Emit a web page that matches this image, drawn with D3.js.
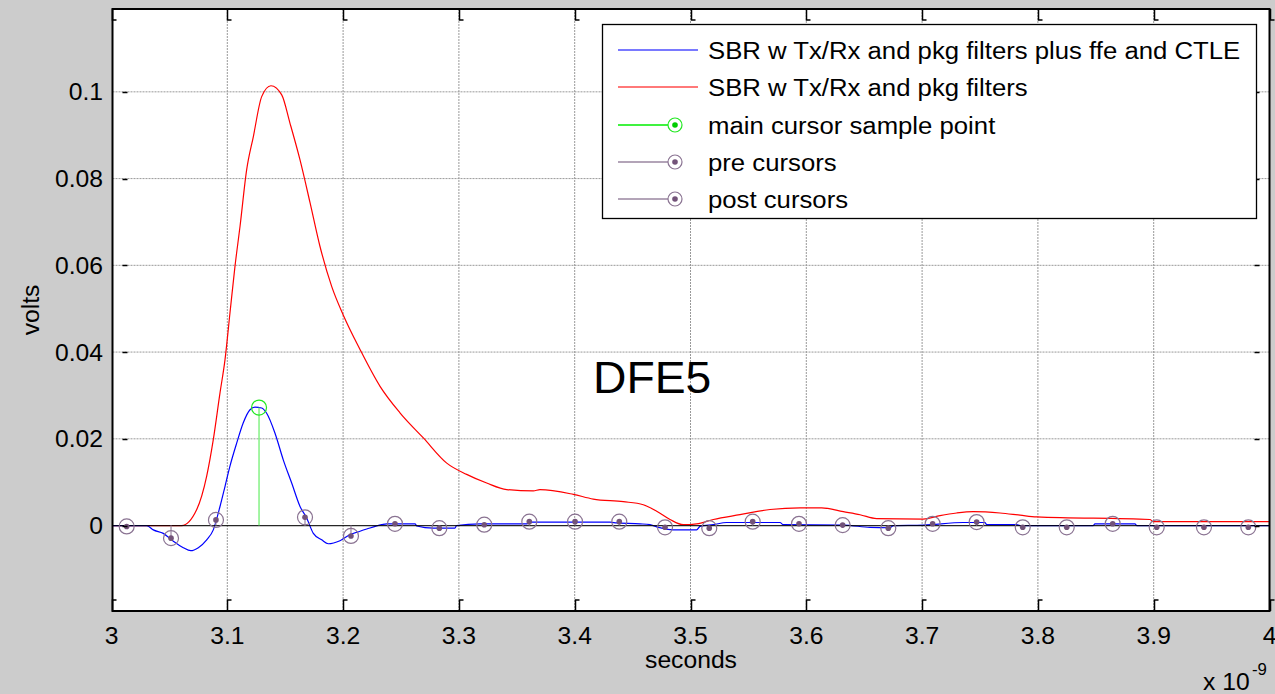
<!DOCTYPE html>
<meta charset="utf-8">
<style>
body { margin: 0; background: #cccccc; }
svg { display: block; font-family: "Liberation Sans", Arial, sans-serif; }
.grid { stroke: #999; stroke-width: 1; stroke-dasharray: 2,1; }
.tick { stroke: #000; stroke-width: 1.5; fill: none; }
</style>
<body>
<script src="https://cdnjs.cloudflare.com/ajax/libs/d3/7.8.5/d3.min.js"></script>
<script>
// SBR with Tx/Rx + pkg filters (red), time in ns, volts
var redT = [3.000, 3.0606, 3.0736, 3.0822, 3.0879, 3.0937, 3.098, 3.1023, 3.1066, 3.111, 3.1167, 3.1225, 3.1297, 3.1377, 3.147, 3.1541, 3.1628, 3.1714, 3.18, 3.1902, 3.2002, 3.2146, 3.2319, 3.2491, 3.2693, 3.2895, 3.3067, 3.324, 3.3413, 3.3643, 3.37, 3.3988, 3.416, 3.442, 3.4592, 3.4708, 3.4823, 3.4938, 3.5053, 3.5197, 3.5427, 3.5687, 3.5946, 3.6133, 3.632, 3.6464, 3.6608, 3.701, 3.7155, 3.7299, 3.7442, 3.7673, 3.7846, 3.7989, 3.8968, 3.8996, 4.0];
var redV = [0, 0, 0.0037, 0.0114, 0.0198, 0.0306, 0.0382, 0.049, 0.0597, 0.069, 0.082, 0.0897, 0.0989, 0.1014, 0.0993, 0.0928, 0.0843, 0.0745, 0.0644, 0.0551, 0.0485, 0.0406, 0.0321, 0.026, 0.0202, 0.0144, 0.0118, 0.0098, 0.0083, 0.008, 0.0083, 0.0072, 0.0061, 0.0055, 0.0048, 0.0033, 0.0014, 0.0002, 0.0004, 0.0014, 0.0025, 0.0037, 0.0041, 0.0041, 0.0032, 0.0025, 0.0016, 0.0015, 0.0023, 0.0029, 0.0032, 0.0029, 0.0024, 0.002, 0.0014, 0.0009, 0.0009];

// SBR plus ffe and CTLE (blue)
var blueT = [3.000, 3.0304, 3.0361, 3.0447, 3.0534, 3.062, 3.0684, 3.075, 3.0822, 3.0879, 3.0937, 3.098, 3.1023, 3.1081, 3.1138, 3.1196, 3.1239, 3.1297, 3.134, 3.1412, 3.1484, 3.1556, 3.1628, 3.1686, 3.1743, 3.1815, 3.1872, 3.1973, 3.206, 3.2146, 3.2204, 3.2333, 3.2376, 3.2621, 3.2636, 3.2779, 3.2966, 3.298, 3.3182, 3.3586, 3.3614, 3.4305, 3.4363, 3.4564, 3.465, 3.4708, 3.4852, 3.5053, 3.5082, 3.5197, 3.5312, 3.5773, 3.5801, 3.632, 3.655, 3.6723, 3.6752, 3.701, 3.7356, 3.7543, 3.7558, 3.7817, 3.7846, 3.8478, 3.8493, 3.8838, 3.8853, 4.0];
var blueV = [0, 0, -0.001, -0.0018, -0.0036, -0.0051, -0.0058, -0.0051, -0.0033, -0.001, 0.0044, 0.009, 0.0137, 0.019, 0.0237, 0.0267, 0.0273, 0.0271, 0.0259, 0.0213, 0.0151, 0.0098, 0.0044, 0.0017, -0.0018, -0.0033, -0.0042, -0.0035, -0.0021, -0.0013, -0.0008, 0.0002, 0.0004, 0.0004, -0.0001, -0.0006, -0.0006, 0, 0.0004, 0.0004, 0.0008, 0.0008, 0.0006, 0.0004, 0.0002, -0.0003, -0.001, -0.001, -0.0002, 0.0002, 0.0007, 0.0007, 0.0002, 0.0001, -0.0004, -0.0005, 0, 0.0001, 0.0007, 0.0007, 0.0002, 0.0002, 0, 0, 0.0004, 0.0004, 0, 0];

// cursor samples
var mainT = [3.1274], mainV = [0.0272];
var preT = [3.0131, 3.0514, 3.0902];
var preV = [-0.0002, -0.0029, 0.0013];
var postT = [3.1671, 3.2068, 3.2448, 3.2831, 3.3219, 3.3608, 3.4003, 3.4385, 3.478, 3.5162, 3.5537, 3.5937, 3.6314, 3.6708, 3.7091, 3.7471, 3.7869, 3.8249, 3.8646, 3.9026, 3.9434, 3.9817];
var postV = [0.0019, -0.0024, 0.0004, -0.0006, 0.0002, 0.0009, 0.0009, 0.0009, -0.0004, -0.0006, 0.0009, 0.0004, 0.0001, -0.0006, 0.0004, 0.0008, -0.0004, -0.0004, 0.0004, -0.0004, -0.0004, -0.0004];

var xTicks = [3, 3.1, 3.2, 3.3, 3.4, 3.5, 3.6, 3.7, 3.8, 3.9, 4];
var yTicks = [0, 0.02, 0.04, 0.06, 0.08, 0.1];
var legendLabels = ["SBR w Tx/Rx and pkg filters plus ffe and CTLE", "SBR w Tx/Rx and pkg filters",
  "main cursor sample point", "pre cursors", "post cursors"];

var width = 1275, height = 694;
var L = 112.5, R = 1269.5, T = 9, B = 611;
var cursorCol = "#8a7392", dotCol = "#735379", stemCol = "#9a86a0";

var x = d3.scaleLinear().domain([3, 4]).range([111.5, 1269.5]);
var y = d3.scaleLinear().domain([-0.0197, 0.1191]).range([B, T]);

var svg = d3.select("body").append("svg")
    .attr("width", width)
    .attr("height", height);

svg.append("rect")
    .attr("x", L).attr("y", T)
    .attr("width", R - L).attr("height", B - T)
    .attr("fill", "#fff");

svg.append("defs").append("clipPath").attr("id", "clip")
  .append("rect").attr("x", L).attr("y", T).attr("width", R - L).attr("height", B - T);

// grid
svg.selectAll(".vgrid").data(xTicks.slice(1, -1)).enter().append("line")
    .attr("class", "grid")
    .attr("x1", d => x(d)).attr("x2", d => x(d))
    .attr("y1", T).attr("y2", B);
svg.selectAll(".hgrid").data(yTicks.slice(1)).enter().append("line")
    .attr("class", "grid")
    .attr("x1", L).attr("x2", R)
    .attr("y1", d => y(d)).attr("y2", d => y(d));

var plot = svg.append("g").attr("clip-path", "url(#clip)");

var line = d3.line().curve(d3.curveMonotoneX).x(d => x(d[0])).y(d => y(d[1]));

plot.append("path")
    .datum(d3.zip(redT, redV))
    .attr("d", line)
    .attr("fill", "none").attr("stroke", "#ff0000").attr("stroke-width", 1.2);

plot.append("path")
    .datum(d3.zip(blueT, blueV))
    .attr("d", line)
    .attr("fill", "none").attr("stroke", "#0000ff").attr("stroke-width", 1.2);

// stem baseline
plot.append("line")
    .attr("x1", x(3)).attr("x2", x(4))
    .attr("y1", y(0)).attr("y2", y(0))
    .attr("stroke", "#000").attr("stroke-opacity", 0.85).attr("stroke-width", 1.2);

function stems(ts, vs, stroke, lineCol, dot) {
  var pts = d3.zip(ts, vs);
  plot.selectAll(null).data(pts).enter().append("line")
      .attr("x1", d => x(d[0])).attr("x2", d => x(d[0]))
      .attr("y1", y(0)).attr("y2", d => y(d[1]))
      .attr("stroke", lineCol).attr("stroke-width", 1.2);
  if (dot) {
    plot.selectAll(null).data(pts).enter().append("circle")
        .attr("cx", d => x(d[0])).attr("cy", d => y(d[1]))
        .attr("r", 2.8).attr("fill", dot);
  }
  plot.selectAll(null).data(pts).enter().append("circle")
      .attr("cx", d => x(d[0])).attr("cy", d => y(d[1]))
      .attr("r", 7.5).attr("fill", "none")
      .attr("stroke", stroke).attr("stroke-width", 1.2);
}
stems(mainT, mainV, "#22e822", "#66ee66", null);
stems(preT, preV, cursorCol, stemCol, dotCol);
stems(postT, postV, cursorCol, stemCol, dotCol);

// axes box and ticks
svg.append("rect")
    .attr("x", L).attr("y", T)
    .attr("width", R - L).attr("height", B - T)
    .attr("fill", "none").attr("stroke", "#000").attr("stroke-width", 2);

xTicks.forEach(function(t) {
  var px = Math.round(x(t)) + 0.5;
  svg.append("path").attr("class", "tick")
      .attr("d", "M" + px + "," + B + "V" + (B - 11) + "h4");
  svg.append("path").attr("class", "tick")
      .attr("d", "M" + px + "," + T + "V" + (T + 11) + "h4");
});
yTicks.forEach(function(t) {
  var py = Math.round(y(t)) + 0.5;
  svg.append("path").attr("class", "tick").attr("stroke-width", 2)
      .attr("d", "M" + (L + 10) + "," + py + "h5");
  svg.append("path").attr("class", "tick").attr("stroke-width", 2)
      .attr("d", "M" + (R - 15) + "," + py + "h5");
});

// text helper with the slight horizontal stretch of the original
function label(tx, ty, str, size, anchor, sx) {
  return svg.append("text")
      .attr("transform", "translate(" + tx + "," + ty + ") scale(" + (sx || 1.05) + ",1)")
      .attr("text-anchor", anchor || "start")
      .attr("font-size", size + "px")
      .attr("fill", "#000")
      .text(str);
}

xTicks.forEach(function(t) {
  label(x(t), 644, d3.format("")(+t.toFixed(1)), 23.5, "middle");
});
yTicks.forEach(function(t) {
  label(103, y(t) + 8.5, t === 0 ? "0" : String(+t.toFixed(2)), 23.5, "end");
});

label(691, 668, "seconds", 23.5, "middle");
svg.append("text")
    .attr("transform", "translate(39,310) rotate(-90) scale(1.05,1)")
    .attr("text-anchor", "middle")
    .attr("font-size", "23.5px")
    .text("volts");
label(1203, 690, "x 10", 23.5, "start");
label(1252, 675, "-9", 16, "start");

label(593, 393, "DFE5", 44.5, "start", 1.04);

// legend
var lg = svg.append("g");
lg.append("rect")
    .attr("x", 602.5).attr("y", 24.5)
    .attr("width", 654).attr("height", 194)
    .attr("fill", "#fff").attr("stroke", "#000").attr("stroke-width", 1.3);

var rowY = [50, 87, 125, 162, 199];
var lgCols = ["#0000ff", "#ff0000", "#00ee00", cursorCol, cursorCol];
legendLabels.forEach(function(s, i) {
  var ry = rowY[i];
  if (i < 2) {
    lg.append("line").attr("x1", 618).attr("x2", 698).attr("y1", ry).attr("y2", ry)
        .attr("stroke", lgCols[i]).attr("stroke-opacity", 0.7).attr("stroke-width", 1.3);
  } else {
    lg.append("line").attr("x1", 618).attr("x2", 668).attr("y1", ry).attr("y2", ry)
        .attr("stroke", i === 2 ? "#00ee00" : stemCol).attr("stroke-width", 1.3);
    lg.append("circle").attr("cx", 675).attr("cy", ry).attr("r", 2.8)
        .attr("fill", i === 2 ? "#00cc00" : dotCol);
    lg.append("circle").attr("cx", 675).attr("cy", ry).attr("r", 7)
        .attr("fill", "none").attr("stroke", i === 2 ? "#22e822" : cursorCol).attr("stroke-width", 1.2);
  }
  label(708, ry + 8.5, s, 23.5, "start", 1.095);
});
</script>
</body>
